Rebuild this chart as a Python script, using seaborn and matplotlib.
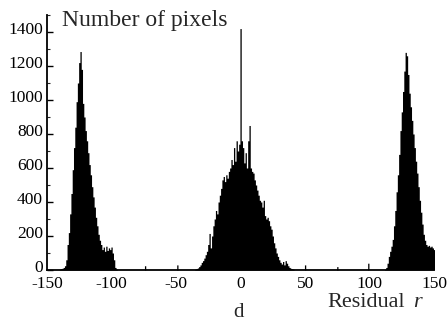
import numpy as np
import pandas as pd
import matplotlib
matplotlib.use("Agg")
import matplotlib.pyplot as plt
import matplotlib.transforms as mtransforms
import seaborn as sns

# residual histogram, one bin per integer residual value
left_start = -140
left_counts = [5, 8, 10, 15, 25, 60, 150, 220, 330, 450, 590, 720, 840, 990,
               1100, 1220, 1285, 1180, 980, 900, 820, 760, 690, 620, 560, 490,
               430, 370, 310, 260, 210, 175, 150, 120, 135, 110, 140, 115, 130,
               120, 135, 100, 60, 15, 5]

center_start = -35
center_counts = [5, 8, 12, 20, 30, 45, 55, 70, 90, 110, 150, 215, 130, 200,
                 260, 300, 350, 330, 400, 440, 480, 530, 550, 520, 560, 540,
                 580, 600, 650, 620, 720, 640, 760, 700, 740, 1420, 760, 720,
                 630, 690, 600, 760, 850, 600, 580, 570, 530, 500, 470, 440,
                 410, 400, 370, 410, 320, 300, 310, 290, 260, 240, 200, 160,
                 130, 100, 80, 60, 45, 35, 50, 30, 55, 40, 25, 15, 10, 8, 5]

right_start = 112
right_counts = [5, 15, 40, 80, 110, 140, 180, 260, 350, 460, 560, 680, 820,
                930, 1050, 1170, 1280, 1260, 1150, 1040, 960, 880, 800, 720,
                640, 570, 490, 410, 340, 270, 210, 175, 150, 140, 145, 135,
                140, 130, 120]

stray_r = [-74, -49, 50, 75, 99]
stray_counts = [25, 30, 30, 20, 40]

y_ticks = [0, 200, 400, 600, 800, 1000, 1200, 1400]
x_ticks = [-150, -100, -50, 0, 50, 100, 150]

r = (list(range(left_start, left_start + len(left_counts)))
     + list(range(center_start, center_start + len(center_counts)))
     + list(range(right_start, right_start + len(right_counts)))
     + stray_r)
counts = left_counts + center_counts + right_counts + stray_counts
df = pd.DataFrame({"r": r, "count": counts})

sns.set_style("ticks")
plt.rcParams["font.family"] = ["Liberation Serif", "DejaVu Serif"]
plt.rcParams["axes.unicode_minus"] = False

fig = plt.figure(figsize=(4.48, 3.22), dpi=100)
ax = fig.add_axes([0.105, 0.1615, 0.864, 0.792])

sns.histplot(data=df, x="r", weights="count", discrete=True, element="step",
             fill=True, color="black", alpha=1, linewidth=0, ax=ax)

ax.set_xlim(-150, 150)
ax.set_ylim(0, 1500)
ax.set_xticks(x_ticks)
ax.set_yticks(y_ticks)
ax.set_yticks(np.arange(100, 1501, 200), minor=True)
ax.set_xlabel("")
ax.set_ylabel("")
for s in ["top", "right"]:
    ax.spines[s].set_visible(False)
for s in ["left", "bottom"]:
    ax.spines[s].set_linewidth(1.3)
    ax.spines[s].set_color("black")
ax.tick_params(axis="y", which="major", direction="in", length=4, width=1,
               labelsize=12.5, pad=3, colors="black")
ax.tick_params(axis="y", which="minor", direction="in", length=2.5, width=0.8)
ax.tick_params(axis="x", length=0, labelsize=12.5, pad=4.2, colors="black")

# y labels sit a little above their ticks in the original
shift = mtransforms.ScaledTranslation(0, 3 / 72, fig.dpi_scale_trans)
for lbl in ax.get_yticklabels():
    lbl.set_transform(lbl.get_transform() + shift)

fig.text(62 / 448, 1 - 26 / 322, "Number of pixels", fontsize=17,
         va="baseline", ha="left")
fig.text(327 / 448, 1 - 307 / 322, "Residual", fontsize=16,
         va="baseline", ha="left")
fig.text(413 / 448, 1 - 307 / 322, "r", fontsize=16, style="italic",
         va="baseline", ha="left")
fig.text(238 / 448, 1 - 317 / 322, "d", fontsize=15, va="baseline",
         ha="center")

fig.savefig("out.png", dpi=100)
